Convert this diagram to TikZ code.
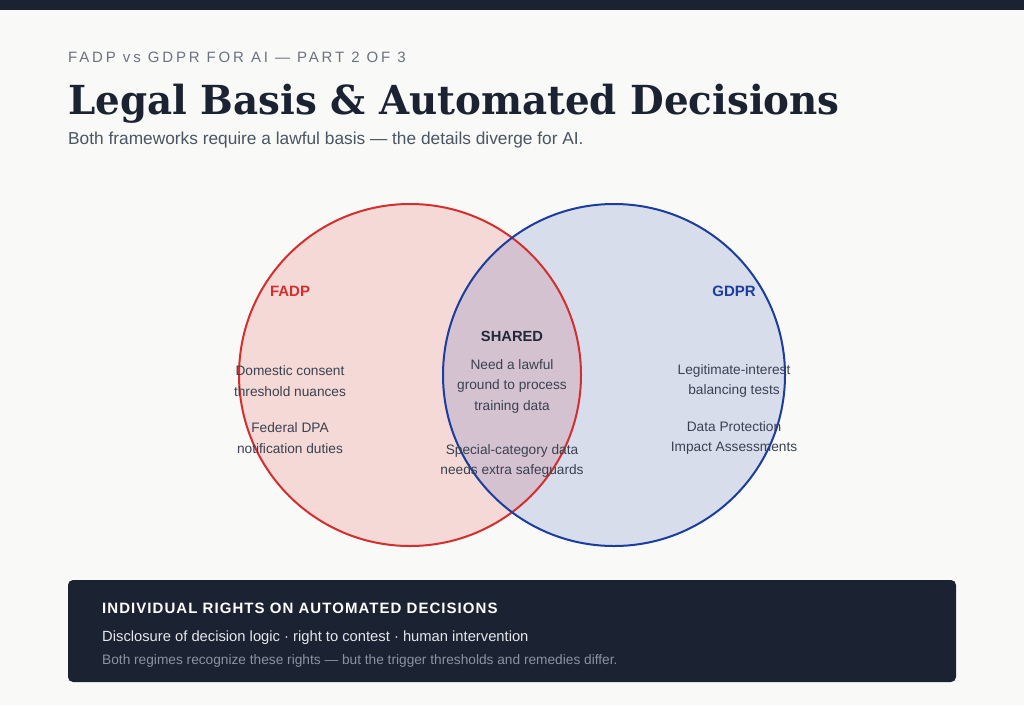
\documentclass[tikz,border=0pt]{standalone}
\usepackage{fontspec}
\setmainfont{Liberation Sans}
\newfontfamily\titlefont{DejaVu Serif}
\newfontfamily\spacedfont[LetterSpace=19]{Liberation Sans}
\newfontfamily\spacedboldfont[LetterSpace=7]{Liberation Sans}
\definecolor{bgc}{HTML}{F9F9F7}
\definecolor{navy}{HTML}{1B2333}
\definecolor{graytxt}{HTML}{6B7280}
\definecolor{subtxt}{HTML}{4B5563}
\definecolor{redc}{HTML}{D32F2F}
\definecolor{bluec}{HTML}{1A3D9E}
\definecolor{redfill}{HTML}{DC2626}
\definecolor{bluefill}{HTML}{1E40AF}
\definecolor{bodytxt}{HTML}{3A4150}
\definecolor{darktxt}{HTML}{1F2937}
\definecolor{lighttxt}{HTML}{E5E7EB}
\definecolor{mutedtxt}{HTML}{8B93A3}
\tikzset{
  body/.style={font=\fontsize{13.7}{20.5}\selectfont, text=bodytxt, align=center, inner sep=0pt},
  lbl/.style={font=\fontsize{15}{17}\selectfont\bfseries, inner sep=0pt},
  lefttxt/.style={anchor=west, inner sep=0pt},
}
\begin{document}
\begin{tikzpicture}[x=1pt,y=-1pt]
\useasboundingbox (0,0) rectangle (1024,705);
\fill[bgc] (0,0) rectangle (1024,705);
\fill[navy] (0,0) rectangle (1024,10);
% header
\node[lefttxt, text=graytxt, font=\fontsize{15}{17}\selectfont\spacedfont] (kicker) at (68,57) {FADP vs GDPR FOR AI — PART 2 OF 3};
\node[lefttxt, text=navy, font=\fontsize{40}{44}\selectfont\titlefont\bfseries] (title) at (68,104) {\scalebox{0.97}[1]{Legal Basis \& Automated Decisions}};
\node[lefttxt, text=subtxt, font=\fontsize{17.3}{19}\selectfont] (sub) at (68,140) {Both frameworks require a lawful basis — the details diverge for AI.};
% circles
\fill[redfill, fill opacity=0.15] (410,375) circle[radius=171];
\fill[bluefill, fill opacity=0.15] (614,375) circle[radius=171];
\draw[redc, line width=2pt] (410,375) circle[radius=171];
\draw[bluec, line width=2pt] (614,375) circle[radius=171];
% labels
\node[lbl, text=redc] (fadp) at (290,291) {FADP};
\node[lbl, text=bluec] (gdpr) at (734,291) {GDPR};
\node[lbl, text=darktxt, font=\fontsize{14.7}{17}\selectfont\bfseries] (shared) at (512,336) {SHARED};
\node[body] (s1) at (512,386) {Need a lawful\\ground to process\\training data};
\node[body] (s2) at (512,461) {Special-category data\\needs extra safeguards};
\node[body] (f1) at (290,381) {Domestic consent\\threshold nuances};
\node[body] (f2) at (290,438) {Federal DPA\\notification duties};
\node[body] (g1) at (734,381) {Legitimate-interest\\balancing tests};
\node[body] (g2) at (734,438) {Data Protection\\Impact Assessments};
% bottom box
\fill[navy, rounded corners=5pt] (68,580) rectangle (956,682);
\node[lefttxt, text=white, font=\fontsize{15}{17}\selectfont\spacedboldfont\bfseries] (bh) at (102,608) {INDIVIDUAL RIGHTS ON AUTOMATED DECISIONS};
\node[lefttxt, text=lighttxt, font=\fontsize{14.75}{17}\selectfont] (bl) at (102,638) {Disclosure of decision logic · right to contest · human intervention};
\node[lefttxt, text=mutedtxt, font=\fontsize{13.7}{15}\selectfont] (bn) at (102,661) {Both regimes recognize these rights — but the trigger thresholds and remedies differ.};
\end{tikzpicture}
\end{document}
